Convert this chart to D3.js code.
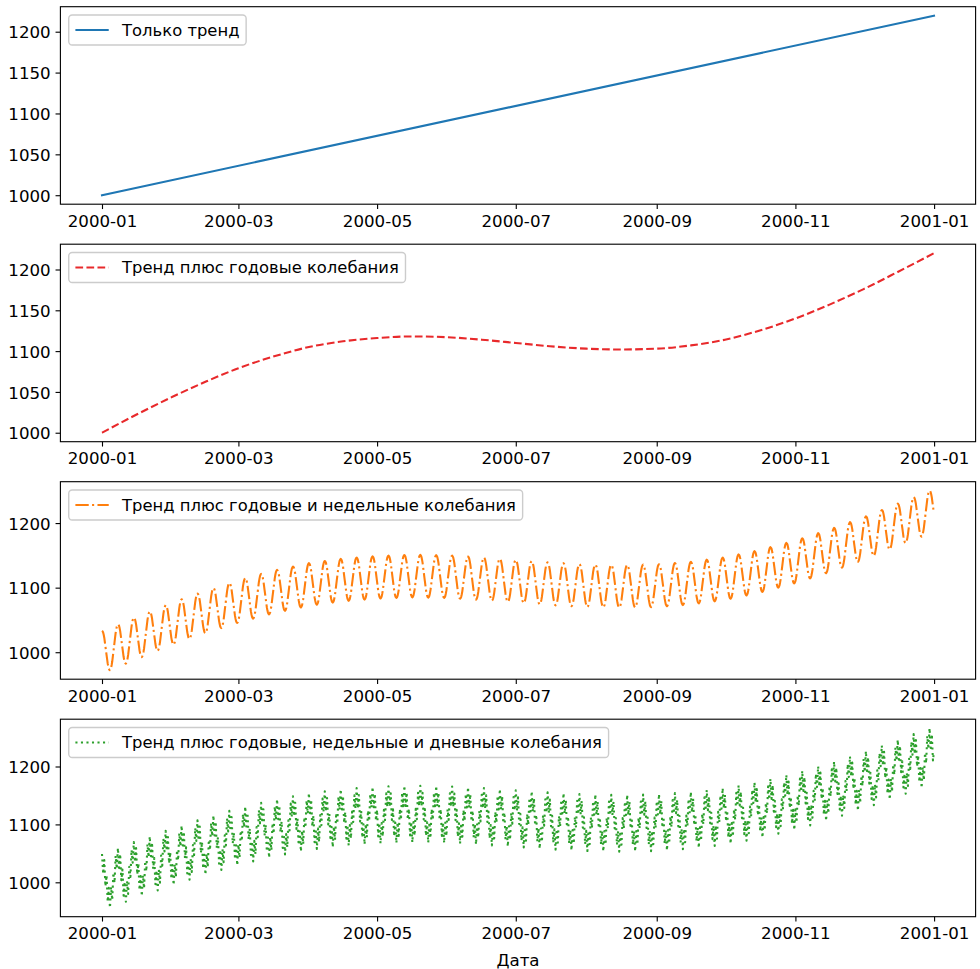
<!DOCTYPE html>
<html>
<head>
<meta charset="utf-8">
<script src="https://cdn.jsdelivr.net/npm/d3@7"></script>
<style>
  body { margin: 0; background: #fff; }
  svg { display: block; }
  text { font-family: "DejaVu Sans", sans-serif; }
</style>
</head>
<body>
<svg id="chart" width="980" height="969"></svg>
<script>
// ---- data ----
// Straight trend: value at the first and last hour of the year
const trendDates = ["2000-01-01T00:00", "2000-12-31T23:00"];
const trendValues = [1000, 1219.6];

// Trend plus yearly swing, taken on the 1st and 16th of every month
const yearlyDates = ["2000-01-01T00:00", "2000-01-16T00:00", "2000-02-01T00:00", "2000-02-16T00:00",
  "2000-03-01T00:00", "2000-03-16T00:00", "2000-04-01T00:00", "2000-04-16T00:00",
  "2000-05-01T00:00", "2000-05-16T00:00", "2000-06-01T00:00", "2000-06-16T00:00",
  "2000-07-01T00:00", "2000-07-16T00:00", "2000-08-01T00:00", "2000-08-16T00:00",
  "2000-09-01T00:00", "2000-09-16T00:00", "2000-10-01T00:00", "2000-10-16T00:00",
  "2000-11-01T00:00", "2000-11-16T00:00", "2000-12-01T00:00", "2000-12-16T00:00",
  "2000-12-31T23:00"];
const yearlyValues = [1000, 1022, 1044, 1063, 1079, 1093, 1105, 1112, 1116, 1118, 1117, 1114,
  1110, 1106, 1103, 1102, 1103, 1107, 1114, 1125, 1140, 1157, 1176, 1197, 1220];

// Weekly swing over one week starting Saturday 00:00, one value every 6 hours
const weekCycle = [33, 32, 30, 26, 21, 14, 7, 0, -7, -14, -21, -26, -30, -32,
  -33, -32, -30, -26, -21, -14, -7, 0, 7, 14, 21, 26, 30, 32];
// Daily swing over one day, one value every 6 hours
const dayCycle = [16, 0, -16, 0];
const sampleStart = "2000-01-01T00:00";
const sampleCount = 1464;   // 366 days x 4 samples
const sampleHours = 6;

const seriesLabels = ["Только тренд", "Тренд плюс годовые колебания",
  "Тренд плюс годовые и недельные колебания",
  "Тренд плюс годовые, недельные и дневные колебания"];
const seriesColors = ["#1f77b4", "#e8292b", "#ff7f0e", "#2ca02c"];
const xTickLabels = ["2000-01", "2000-03", "2000-05", "2000-07", "2000-09", "2000-11", "2001-01"];
const yTickValues = [[1000, 1050, 1100, 1150, 1200], [1000, 1050, 1100, 1150, 1200],
  [1000, 1100, 1200], [1000, 1100, 1200]];
const xAxisTitle = "Дата";

// ---- build series ----
const parseTime = d3.utcParse("%Y-%m-%dT%H:%M");
const parseMonth = d3.utcParse("%Y-%m");

const trendSeries = trendDates.map((d, i) => ({ date: parseTime(d), value: trendValues[i] }));
const yearlySeries = yearlyDates.map((d, i) => ({ date: parseTime(d), value: yearlyValues[i] }));
const yearlyAt = d3.scaleLinear().domain(yearlySeries.map(d => d.date)).range(yearlyValues);

const t0 = parseTime(sampleStart);
const weeklySeries = [], dailySeries = [];
for (let i = 0; i < sampleCount; i++) {
  const date = d3.utcHour.offset(t0, i * sampleHours);
  const base = yearlyAt(date) + weekCycle[i % weekCycle.length];
  weeklySeries.push({ date, value: base });
  dailySeries.push({ date, value: base + dayCycle[i % dayCycle.length] });
}
const allSeries = [trendSeries, yearlySeries, weeklySeries, dailySeries];

// ---- layout (px) ----
const PT = 100 / 72;
const W = 980, left = 60.4, right = 975.6;
const panelTop = [6.7, 244.2, 481.7, 719.2];
const panelH = 197.5;
const lineW = 1.5 * PT;
const dashes = [null,
  [3.7 * 1.5, 1.6 * 1.5].map(v => v * PT).join(","),
  [6.4 * 1.5, 1.6 * 1.5, 1 * 1.5, 1.6 * 1.5].map(v => v * PT).join(","),
  [1 * 1.5, 1.65 * 1.5].map(v => v * PT).join(",")];
const curves = [d3.curveLinear, d3.curveMonotoneX, d3.curveLinear, d3.curveLinear];
const fontPx = 12 * PT;          // ticks, legend and axis title
const legendTextPx = 16.4;

const svg = d3.select("#chart");
svg.append("rect").attr("width", W).attr("height", 969).attr("fill", "#fff");

// shared time axis with 5% margins on both sides
const tExtent = d3.extent(allSeries.flat(), d => d.date);
const tSpan = tExtent[1] - tExtent[0];
const x = d3.scaleUtc()
  .domain([new Date(+tExtent[0] - 0.05 * tSpan), new Date(+tExtent[1] + 0.05 * tSpan)])
  .range([left, right]);
const xTicks = xTickLabels.map(parseMonth);

allSeries.forEach((data, p) => {
  const top = panelTop[p], bottom = top + panelH;
  const [lo, hi] = d3.extent(data, d => d.value);
  const pad = 0.05 * (hi - lo);
  const y = d3.scaleLinear().domain([lo - pad, hi + pad]).range([bottom, top]);

  const g = svg.append("g");
  const clipId = "clip" + p;
  g.append("clipPath").attr("id", clipId).append("rect")
    .attr("x", left).attr("y", top).attr("width", right - left).attr("height", panelH);

  // series line
  const line = d3.line().x(d => x(d.date)).y(d => y(d.value)).curve(curves[p]);
  const path = g.append("path").datum(data)
    .attr("clip-path", `url(#${clipId})`)
    .attr("d", line)
    .attr("fill", "none")
    .attr("stroke", seriesColors[p])
    .attr("stroke-width", lineW)
    .attr("stroke-linejoin", "round");
  if (dashes[p]) path.attr("stroke-dasharray", dashes[p]).attr("stroke-linecap", "butt");
  else path.attr("stroke-linecap", "square");

  // axes
  const xAxis = d3.axisBottom(x).tickValues(xTicks).tickFormat(d3.utcFormat("%Y-%m"))
    .tickSize(3.5 * PT).tickPadding(3.5 * PT).tickSizeOuter(0);
  const yAxis = d3.axisLeft(y).tickValues(yTickValues[p]).tickFormat(d3.format("d"))
    .tickSize(3.5 * PT).tickPadding(3.5 * PT).tickSizeOuter(0);
  const gx = g.append("g").attr("transform", `translate(0,${bottom})`).call(xAxis);
  const gy = g.append("g").attr("transform", `translate(${left},0)`).call(yAxis);
  gx.selectAll("text").attr("dy", "0.76em");
  gy.selectAll("text").attr("dy", "0.37em");
  [gx, gy].forEach(a => {
    a.select(".domain").remove();
    a.selectAll("line").attr("stroke", "#000").attr("stroke-width", 0.8 * PT);
    a.selectAll("text").attr("fill", "#000").style("font-size", fontPx + "px")
      .style("font-family", "'DejaVu Sans', sans-serif");
  });

  // frame
  g.append("rect").attr("x", left).attr("y", top).attr("width", right - left).attr("height", panelH)
    .attr("fill", "none").attr("stroke", "#000").attr("stroke-width", 0.8 * PT);

  // legend, upper left
  const lx = left + 0.5 * fontPx, ly = top + 0.5 * fontPx;
  const bpad = 0.4 * fontPx, hlen = 2 * fontPx, hpad = 0.8 * fontPx;
  const boxH = 30;
  const lg = g.append("g");
  const box = lg.append("rect").attr("x", lx).attr("y", ly).attr("height", boxH)
    .attr("rx", 3.5).attr("ry", 3.5)
    .attr("fill", "#fff").attr("fill-opacity", 0.8)
    .attr("stroke", "#cccccc").attr("stroke-width", 1.0 * PT);
  const cy = ly + boxH / 2;
  const handle = lg.append("line")
    .attr("x1", lx + bpad).attr("x2", lx + bpad + hlen).attr("y1", cy).attr("y2", cy)
    .attr("stroke", seriesColors[p]).attr("stroke-width", lineW);
  if (dashes[p]) handle.attr("stroke-dasharray", dashes[p]);
  const label = lg.append("text")
    .attr("x", lx + bpad + hlen + hpad).attr("y", cy).attr("dy", "0.36em")
    .style("font-size", legendTextPx + "px").attr("fill", "#000")
    .text(seriesLabels[p]);
  const tw = label.node().getComputedTextLength();
  box.attr("width", bpad + hlen + hpad + tw + bpad);

  if (p === allSeries.length - 1) {
    g.append("text").attr("x", (left + right) / 2).attr("y", 966)
      .attr("text-anchor", "middle").style("font-size", fontPx + "px").attr("fill", "#000")
      .text(xAxisTitle);
  }
});
</script>
</body>
</html>
